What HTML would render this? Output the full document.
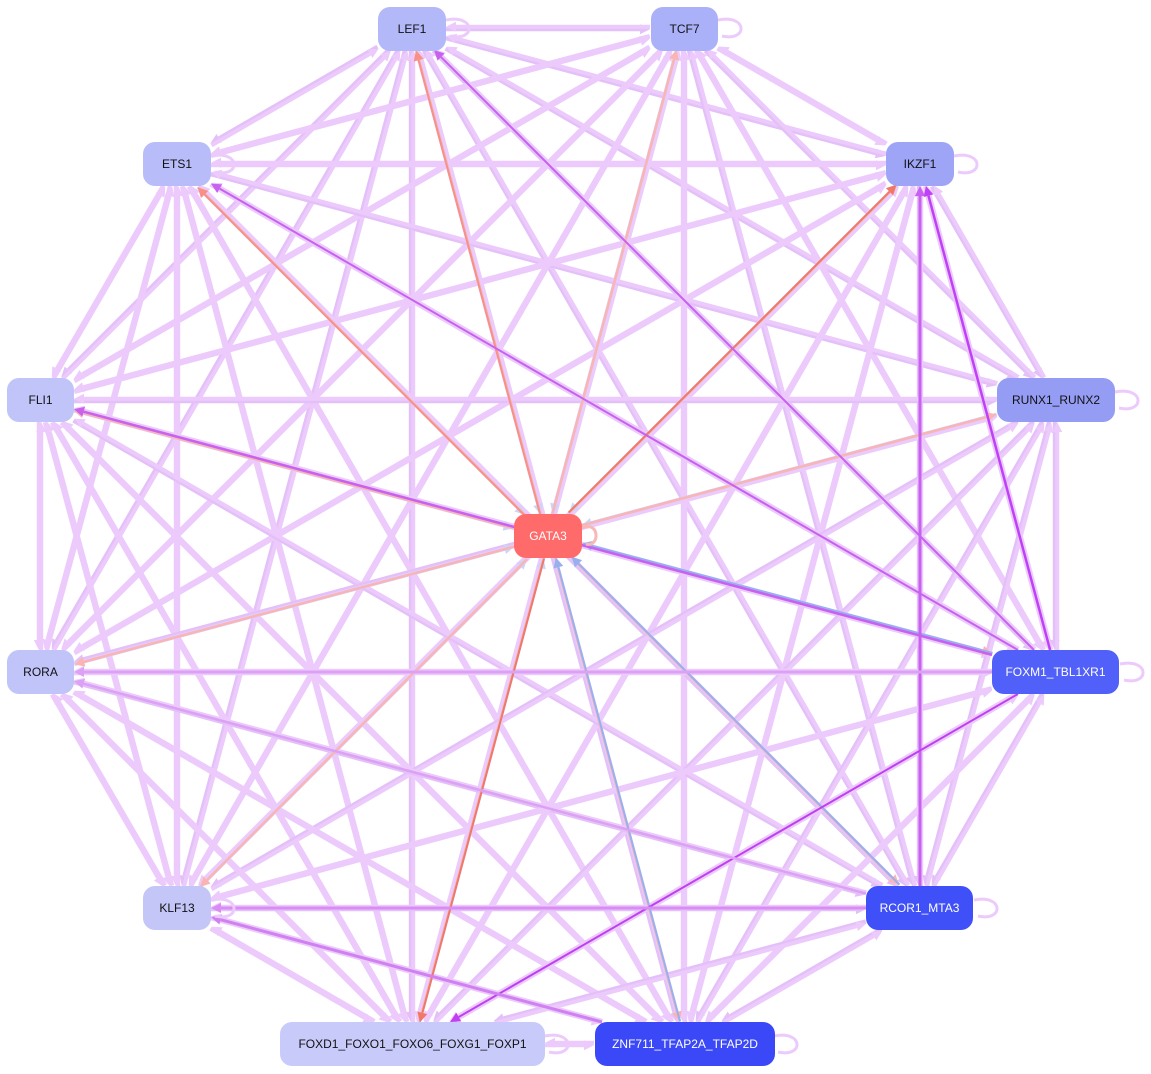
<!DOCTYPE html>
<html><head><meta charset="utf-8"><style>
body{margin:0;width:1151px;height:1074px;background:#fff;position:relative;overflow:hidden;font-family:"Liberation Sans",sans-serif}
svg{position:absolute;left:0;top:0}
.n{position:absolute;height:44px;border-radius:12px;display:flex;align-items:center;justify-content:center;font-size:12px;color:#111}
</style></head><body>
<svg id="s" width="1151" height="1074"></svg>
<div class="n" style="left:378px;top:7px;width:68px;background:#b3b8f8">LEF1</div>
<div class="n" style="left:651px;top:7px;width:67px;background:#abb1f8">TCF7</div>
<div class="n" style="left:143px;top:142px;width:68px;background:#b8bcf8">ETS1</div>
<div class="n" style="left:886px;top:142px;width:68px;background:#9ea4f6">IKZF1</div>
<div class="n" style="left:7px;top:378px;width:67px;background:#c0c4f8">FLI1</div>
<div class="n" style="left:997px;top:378px;width:118px;background:#959cf4">RUNX1_RUNX2</div>
<div class="n" style="left:514px;top:514px;width:68px;background:#ff6b6b;color:#fff">GATA3</div>
<div class="n" style="left:7px;top:650px;width:67px;background:#c0c4f8">RORA</div>
<div class="n" style="left:992px;top:650px;width:127px;background:#5060f8;color:#fff">FOXM1_TBL1XR1</div>
<div class="n" style="left:143px;top:886px;width:68px;background:#c4c6f8">KLF13</div>
<div class="n" style="left:866px;top:886px;width:107px;background:#4050f8;color:#fff">RCOR1_MTA3</div>
<div class="n" style="left:280px;top:1022px;width:265px;background:#c8cafa">FOXD1_FOXO1_FOXO6_FOXG1_FOXP1</div>
<div class="n" style="left:595px;top:1022px;width:180px;background:#3a48f8;color:#fff">ZNF711_TFAP2A_TFAP2D</div>
<script>
var N={LEF1:[412,28,34],TCF7:[684,28,34],ETS1:[177,164,34],IKZF1:[920,164,34],FLI1:[40,400,34],RUNX:[1056,400,59],GATA3:[548,536,34],RORA:[40,672,34],FOXM1:[1056,672,64],KLF13:[177,908,34],RCOR1:[920,908,54],FOXD:[412,1044,133],ZNF:[684,1044,90]};
var s=document.getElementById('s'),h='';
function pt(n,dx,dy){var c=N[n],w=c[2],hh=22;var t=Math.min(w/Math.abs(dx||1e-9),hh/Math.abs(dy||1e-9));return [c[0]+dx*t,c[1]+dy*t];}
function edge(a,b,col,w,off){var A=N[a],B=N[b];var dx=B[0]-A[0],dy=B[1]-A[1],L=Math.hypot(dx,dy);var px=-dy/L*off,py=dx/L*off;
var p=pt(a,dx,dy),q=pt(b,-dx,-dy);var x1=p[0]+px,y1=p[1]+py,x2=q[0]+px,y2=q[1]+py;var ux=dx/L,uy=dy/L;var al=10,aw=5;
var bx=x2-ux*al,by=y2-uy*al;h+='<line x1="'+x1+'" y1="'+y1+'" x2="'+bx+'" y2="'+by+'" stroke="'+col+'" stroke-width="'+w+'"/>';
h+='<polygon points="'+x2+','+y2+' '+(bx-uy*aw)+','+(by+ux*aw)+' '+(bx+uy*aw)+','+(by-ux*aw)+'" fill="'+col+'"/>';}
var k=Object.keys(N),P='#eccafc';
for(var i=0;i<k.length;i++)for(var j=i+1;j<k.length;j++){if(k[i]=='GATA3'||k[j]=='GATA3')continue;edge(k[i],k[j],(i*j)%5==0?'#e4c0f8':P,4,1.2);edge(k[j],k[i],P,4,1.2);}
k.forEach(function(n){if(n=='GATA3')return;edge(n,'GATA3','#ccd4f8',3,1.5);edge('GATA3',n,'#fab4b4',2.5,-1.5);});
edge('GATA3','LEF1','#f89088',2,-2);edge('GATA3','IKZF1','#f07868',2,-2);edge('GATA3','FOXD','#f07868',2,-2);edge('GATA3','ETS1','#f89088',2,-2);
edge('RCOR1','GATA3','#98b0f0',2,2);edge('ZNF','GATA3','#98b0f0',2,2);edge('FOXM1','GATA3','#98b0f0',2,2);
edge('FOXM1','LEF1','#c860f0',2,0);edge('FOXM1','ETS1','#c860f0',2,0);edge('FOXM1','FLI1','#c860f0',2.5,0);
edge('FOXM1','IKZF1','#c040f8',2.5,0);edge('RCOR1','IKZF1','#c860f0',3,0);edge('FOXM1','FOXD','#c040f0',2,0);
edge('ZNF','KLF13','#d080f0',3,0);edge('RCOR1','KLF13','#d88cf4',3,0);edge('RCOR1','RORA','#dca0f4',2.5,0);edge('FOXM1','RORA','#dca0f4',3,0);
k.forEach(function(n){if(n=='FLI1'||n=='RORA'||n=='GATA3')return;var c=N[n],x=c[0]+c[2],y=c[1];h+='<path d="M'+x+','+(y-8)+' C'+(x+30)+','+(y-14)+' '+(x+30)+','+(y+14)+' '+(x+4)+','+(y+8)+'" fill="none" stroke="'+P+'" stroke-width="3"/>';});
h+='<path d="M582,528 C600,520 600,548 586,544" fill="none" stroke="#f8b8b8" stroke-width="3"/>';
s.innerHTML=h;
</script>
</body></html>
